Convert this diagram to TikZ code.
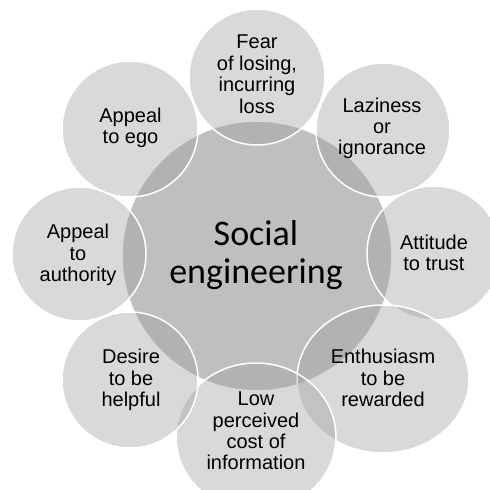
\documentclass[tikz,border=0pt]{standalone}
\usepackage{fontspec}
\setmainfont{Liberation Sans}
\newfontfamily\centerfont{Carlito}
\definecolor{hubgray}{RGB}{191,191,191}
\definecolor{petalgray}{RGB}{160,160,160}
\begin{document}
\begin{tikzpicture}[x=1pt,y=-1pt,
  hub/.style={fill=hubgray, draw=white, line width=1.5pt},
  petal/.style={fill=petalgray, fill opacity=0.4, draw=white, draw opacity=1, line width=1.5pt},
  lbl/.style={align=center, inner sep=0pt, text=black, font=\fontsize{20}{21.4}\selectfont},
  hubtext/.style={align=center, inner sep=0pt, text=black, font=\centerfont\fontsize{36}{38}\selectfont}]
\useasboundingbox (0,0) rectangle (490,490);
\clip (0,0) rectangle (490,490);
\fill[white] (0,0) rectangle (490,490);
% central circle
\draw[hub] (257,256) circle (135);
% outer circles
\draw[petal] (257,77) circle (68);
\draw[petal] (383,130) circle (67);
\draw[petal] (434,253) circle (67);
\draw[petal] (383,379) ellipse [x radius=86, y radius=74];
\draw[petal] (256,437) ellipse [x radius=80, y radius=74];
\draw[petal] (130,380) circle (68);
\draw[petal] (79,254) circle (67);
\draw[petal] (130,129) circle (68);
% texts
\node[hubtext] (hub) at (256,255) {Social\\engineering};
\node[lbl] (fear) at (257,74.3) {Fear\\of losing,\\incurring\\loss};
\node[lbl] (lazy) at (382,128.4) {Laziness\\or\\ignorance};
\node[lbl] (trust) at (434,252.8) {Attitude\\to trust};
\node[lbl] (enth) at (383,378) {Enthusiasm\\to be\\rewarded};
\node[lbl] (cost) at (256,431) {Low\\perceived\\cost of\\information};
\node[lbl] (help) at (131,380) {Desire\\to be\\helpful};
\node[lbl] (auth) at (78,255) {Appeal\\to\\authority};
\node[lbl] (ego) at (130.5,128) {Appeal\\to ego};
\end{tikzpicture}
\end{document}
